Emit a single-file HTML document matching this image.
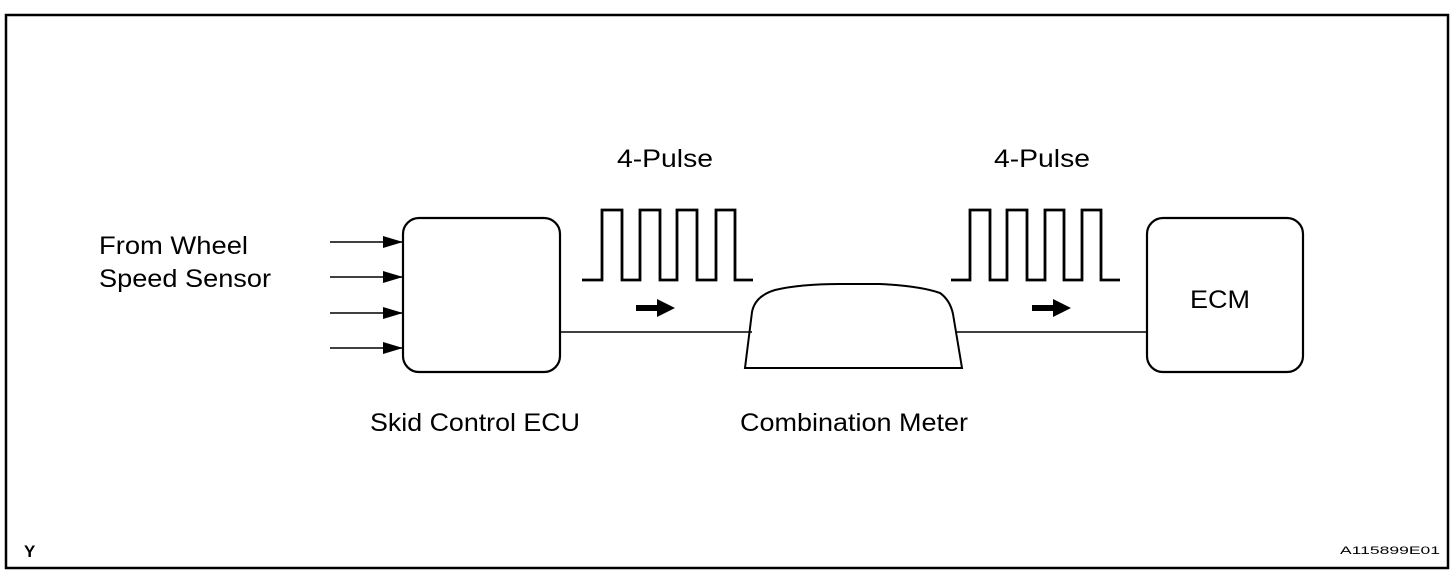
<!DOCTYPE html>
<html><head><style>
body{margin:0;background:#fff;}
svg{display:block}
text{font-family:"Liberation Sans",Arial,sans-serif;fill:#000}
</style></head><body>
<svg width="1456" height="578" viewBox="0 0 1456 578" xmlns="http://www.w3.org/2000/svg">
<rect x="6" y="15" width="1442" height="553" fill="none" stroke="#000" stroke-width="2.5"/>
<defs><marker id="ah" markerWidth="20" markerHeight="12" refX="20" refY="6" orient="auto" markerUnits="userSpaceOnUse"><path d="M0,0 L20,6 L0,12 Z" fill="#000"/></marker></defs>
<g stroke="#000" stroke-width="1.5">
<line x1="330" y1="242" x2="403" y2="242" marker-end="url(#ah)"/>
<line x1="330" y1="277" x2="403" y2="277" marker-end="url(#ah)"/>
<line x1="330" y1="313" x2="403" y2="313" marker-end="url(#ah)"/>
<line x1="330" y1="348" x2="403" y2="348" marker-end="url(#ah)"/>
<line x1="560" y1="332" x2="752" y2="332"/>
<line x1="956" y1="332" x2="1147" y2="332"/>
</g>
<rect x="403" y="218" width="157" height="154" rx="16" fill="none" stroke="#000" stroke-width="2.2"/>
<rect x="1147" y="218" width="156" height="154" rx="16" fill="none" stroke="#000" stroke-width="2.2"/>
<path d="M745,368 L752,312 Q755,296 775,290 Q800,284 840,284 L880,284 Q920,286 940,293 Q950,300 953,314 L962,368 Z" fill="none" stroke="#000" stroke-width="2"/>
<path d="M582,280 H602 V210 H622 V280 H640 V210 H660 V280 H677 V210 H697 V280 H716 V210 H735 V280 H753" fill="none" stroke="#000" stroke-width="2.8"/>
<path d="M951,280 H970 V210 H990 V280 H1007 V210 H1027 V280 H1045 V210 H1064 V280 H1082 V210 H1101 V280 H1120" fill="none" stroke="#000" stroke-width="2.8"/>
<path d="M636,305 H657 V299 L675,308 L657,317 V311 H636 Z" fill="#000"/>
<path d="M1032,305 H1053 V299 L1071,308 L1053,317 V311 H1032 Z" fill="#000"/>
<text x="617" y="167" font-size="25" textLength="96" lengthAdjust="spacingAndGlyphs">4-Pulse</text>
<text x="994" y="167" font-size="25" textLength="96" lengthAdjust="spacingAndGlyphs">4-Pulse</text>
<text x="99" y="254" font-size="25" textLength="149" lengthAdjust="spacingAndGlyphs">From Wheel</text>
<text x="99" y="287" font-size="25" textLength="172" lengthAdjust="spacingAndGlyphs">Speed Sensor</text>
<text x="370" y="431" font-size="25" textLength="210" lengthAdjust="spacingAndGlyphs">Skid Control ECU</text>
<text x="740" y="431" font-size="25" textLength="228" lengthAdjust="spacingAndGlyphs">Combination Meter</text>
<text x="1190" y="308" font-size="25" textLength="60" lengthAdjust="spacingAndGlyphs">ECM</text>
<text x="24" y="557" font-size="17" font-weight="bold">Y</text>
<text x="1340" y="554" font-size="11" textLength="100" lengthAdjust="spacingAndGlyphs">A115899E01</text>
</svg>
</body></html>
